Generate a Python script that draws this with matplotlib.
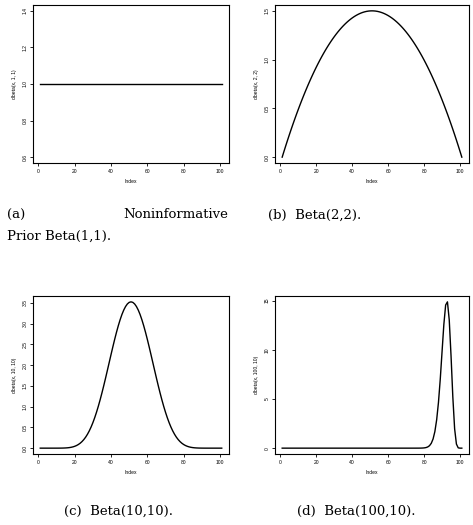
import numpy as np
import matplotlib.pyplot as plt
from math import lgamma

# Beta shape parameters for each panel
alphas = [1, 2, 10, 100]
betas = [1, 2, 10, 10]
ylabels = ["dbeta(x, 1, 1)", "dbeta(x, 2, 2)", "dbeta(x, 10, 10)", "dbeta(x, 100, 10)"]
yticks = [[0.6, 0.8, 1.0, 1.2, 1.4], [0.0, 0.5, 1.0, 1.5],
          [0.0, 0.5, 1.0, 1.5, 2.0, 2.5, 3.0, 3.5], [0, 5, 10, 15]]
x = np.linspace(0, 1, 101)
index = np.arange(1, 102)


def dbeta(x, a, b):
    lb = lgamma(a) + lgamma(b) - lgamma(a + b)
    with np.errstate(divide="ignore"):
        v = np.exp((a - 1) * np.log(x) + (b - 1) * np.log1p(-x) - lb)
    return np.nan_to_num(v, nan=0.0, posinf=0.0)


fig = plt.figure(figsize=(4.73, 5.25), dpi=100)
W, H = 473, 525
boxes = [(33, 5, 229, 163), (275, 5, 469, 163), (33, 296, 229, 454), (275, 296, 469, 454)]
fs = 3.6
for i, (l, t, r, b) in enumerate(boxes):
    ax = fig.add_axes([l / W, 1 - b / H, (r - l) / W, (b - t) / H])
    y = dbeta(x, alphas[i], betas[i])
    if i == 0:
        y = np.ones_like(x)
    ax.plot(index, y, color="black", lw=1.0)
    lo, hi = yticks[i][0], yticks[i][-1]
    if i > 0:
        lo, hi = 0, y.max()
    pad = (hi - lo) * 0.04
    ax.set_ylim(lo - pad, hi + pad)
    ax.set_xlim(1 - 4, 101 + 4)
    ax.set_xticks([0, 20, 40, 60, 80, 100])
    ax.set_yticks(yticks[i])
    ax.set_yticklabels([f"{v:g}" if i == 3 else f"{v:.1f}" for v in yticks[i]],
                       rotation=90, va="center", fontsize=fs, family="Liberation Sans")
    ax.set_xticklabels(["0", "20", "40", "60", "80", "100"], fontsize=fs, family="Liberation Sans")
    ax.tick_params(length=2, width=0.6, pad=2)
    ax.set_xlabel("Index", fontsize=fs, family="Liberation Sans", labelpad=4)
    ax.set_ylabel(ylabels[i], fontsize=fs, family="Liberation Sans", labelpad=4)
    for s in ax.spines.values():
        s.set_linewidth(0.8)

cap = dict(fontsize=9.5, family="DejaVu Serif")
fig.text(7 / W, 1 - 215 / H, "(a)", ha="left", va="center", **cap)
fig.text(228 / W, 1 - 215 / H, "Noninformative", ha="right", va="center", **cap)
fig.text(7 / W, 1 - 236 / H, "Prior Beta(1,1).", ha="left", va="center", **cap)
fig.text(315 / W, 1 - 215 / H, "(b)  Beta(2,2).", ha="center", va="center", **cap)
fig.text(118 / W, 1 - 511 / H, "(c)  Beta(10,10).", ha="center", va="center", **cap)
fig.text(356 / W, 1 - 511 / H, "(d)  Beta(100,10).", ha="center", va="center", **cap)

fig.savefig("out.png", dpi=100)
